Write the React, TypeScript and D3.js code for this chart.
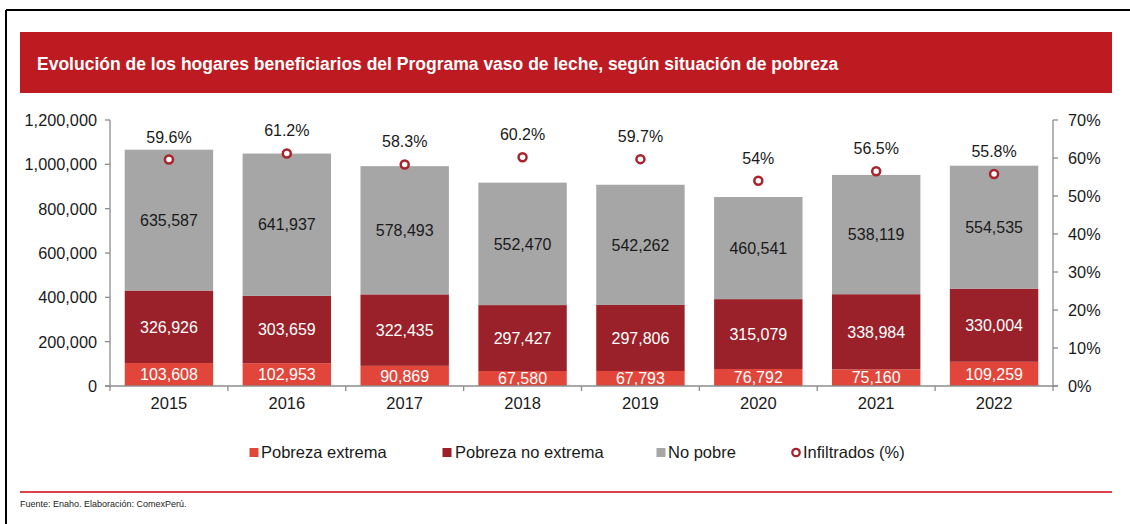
import React from "react";
import * as d3 from "d3";

const years = ["2015", "2016", "2017", "2018", "2019", "2020", "2021", "2022"];
const pobrezaExtrema = [103608, 102953, 90869, 67580, 67793, 76792, 75160, 109259];
const pobrezaNoExtrema = [326926, 303659, 322435, 297427, 297806, 315079, 338984, 330004];
const noPobre = [635587, 641937, 578493, 552470, 542262, 460541, 538119, 554535];
const infiltrados = [59.6, 61.2, 58.3, 60.2, 59.7, 54, 56.5, 55.8];
const infiltradosLabels = ["59.6%", "61.2%", "58.3%", "60.2%", "59.7%", "54%", "56.5%", "55.8%"];
const leftTicks = [0, 200000, 400000, 600000, 800000, 1000000, 1200000];
const rightTicks = [0, 10, 20, 30, 40, 50, 60, 70];
const seriesNames = ["Pobreza extrema", "Pobreza no extrema", "No pobre"];
const dotName = "Infiltrados (%)";
const title = "Evolución de los hogares beneficiarios del Programa vaso de leche, según situación de pobreza";
const source = "Fuente: Enaho. Elaboración: ComexPerú.";

const colors = ["#E2463A", "#9A2129", "#A6A6A6"];
const labelColors = ["#ffffff", "#ffffff", "#1a1a1a"];
const dotColor = "#A8232B";
const axisColor = "#8c8c8c";
const font = "Arial, 'Liberation Sans', sans-serif";

export default function App() {
  const W = 1130, H = 524;
  const x0 = 110, x1 = 1053, yTop = 120, yBot = 386;
  const x = d3.scaleBand<string>().domain(years).range([x0, x1]).paddingInner(0.25).paddingOuter(0.125);
  const y = d3.scaleLinear().domain([0, 1200000]).range([yBot, yTop]);
  const yR = d3.scaleLinear().domain([0, 70]).range([yBot, yTop]);
  const fmt = d3.format(",");

  const table = years.map((yr, i) => ({ yr, a: pobrezaExtrema[i], b: pobrezaNoExtrema[i], c: noPobre[i] }));
  const stacked = d3.stack<any>().keys(["a", "b", "c"])(table);

  const boundaries = d3.range(years.length + 1).map((i) => x0 + (i * (x1 - x0)) / years.length);
  const legendPos = [{ sx: 254, tx: 261 }, { sx: 447, tx: 455 }, { sx: 661, tx: 668 }];

  return (
    <svg width={W} height={H} style={{ position: "absolute", left: 0, top: 0, background: "#fff" }} fontFamily={font}>
      <rect x={0} y={0} width={W} height={H} fill="#fff" />
      {/* frame */}
      <line x1={6} y1={10} x2={W} y2={10} stroke="#000" strokeWidth={2} />
      <line x1={6} y1={10} x2={6} y2={H} stroke="#000" strokeWidth={2} />
      {/* title bar */}
      <rect x={20} y={32} width={1092} height={61} fill="#BD1B21" />
      <text x={37} y={70} fill="#fff" fontSize={17.5} fontWeight="bold">{title}</text>

      {/* bars */}
      {stacked.map((layer, li) =>
        layer.map((d, i) => {
          const yy0 = y(d[0]), yy1 = y(d[1]);
          const xx = x(years[i])!;
          return (
            <g key={`${li}-${i}`}>
              <rect x={xx} y={yy1} width={x.bandwidth()} height={yy0 - yy1} fill={colors[li]} />
              <text x={xx + x.bandwidth() / 2} y={(yy0 + yy1) / 2} dy="0.36em" textAnchor="middle" fontSize={16} fill={labelColors[li]}>
                {fmt(d[1] - d[0])}
              </text>
            </g>
          );
        })
      )}

      {/* left axis */}
      <line x1={x0} y1={yTop} x2={x0} y2={yBot} stroke={axisColor} strokeWidth={1.3} />
      {leftTicks.map((t) => (
        <g key={t}>
          <line x1={x0 - 5} x2={x0} y1={y(t)} y2={y(t)} stroke={axisColor} strokeWidth={1.3} />
          <text x={97} y={y(t)} dy="0.36em" textAnchor="end" fontSize={16.3} fill="#1a1a1a">{fmt(t)}</text>
        </g>
      ))}
      {/* right axis */}
      <line x1={x1} y1={yTop} x2={x1} y2={yBot} stroke={axisColor} strokeWidth={1.3} />
      {rightTicks.map((t) => (
        <g key={t}>
          <line x1={x1} x2={x1 + 5} y1={yR(t)} y2={yR(t)} stroke={axisColor} strokeWidth={1.3} />
          <text x={1068} y={yR(t)} dy="0.36em" textAnchor="start" fontSize={16.3} fill="#1a1a1a">{t}%</text>
        </g>
      ))}
      {/* x axis */}
      <line x1={x0 - 5} x2={x1 + 5} y1={yBot} y2={yBot} stroke={axisColor} strokeWidth={1.3} />
      {boundaries.map((b, i) => (
        <line key={i} x1={b} x2={b} y1={yBot} y2={yBot + 5} stroke={axisColor} strokeWidth={1.3} />
      ))}
      {years.map((yr) => (
        <text key={yr} x={x(yr)! + x.bandwidth() / 2} y={409} textAnchor="middle" fontSize={16.5} fill="#1a1a1a">{yr}</text>
      ))}

      {/* infiltrados */}
      {infiltrados.map((v, i) => {
        const cx = x(years[i])! + x.bandwidth() / 2;
        const cy = yR(v);
        return (
          <g key={i}>
            <circle cx={cx} cy={cy} r={4} fill="#fff" stroke={dotColor} strokeWidth={2.5} />
            <text x={cx} y={cy - 17} textAnchor="middle" fontSize={16} fill="#1a1a1a">{infiltradosLabels[i]}</text>
          </g>
        );
      })}

      {/* legend */}
      {legendPos.map((p, i) => (
        <g key={i}>
          <rect x={p.sx - 4.5} y={448} width={9} height={9} fill={colors[i]} />
          <text x={p.tx} y={452.5} dy="0.36em" fontSize={16.5} fill="#1a1a1a">{seriesNames[i]}</text>
        </g>
      ))}
      <circle cx={796} cy={452.5} r={3.7} fill="#fff" stroke={dotColor} strokeWidth={2.3} />
      <text x={803} y={452.5} dy="0.36em" fontSize={16.5} fill="#1a1a1a">{dotName}</text>

      {/* bottom rule and source */}
      <line x1={20} x2={1112} y1={492} y2={492} stroke="#D9434C" strokeWidth={2} />
      <text x={20} y={507} fontSize={9} fill="#222">{source}</text>
    </svg>
  );
}
